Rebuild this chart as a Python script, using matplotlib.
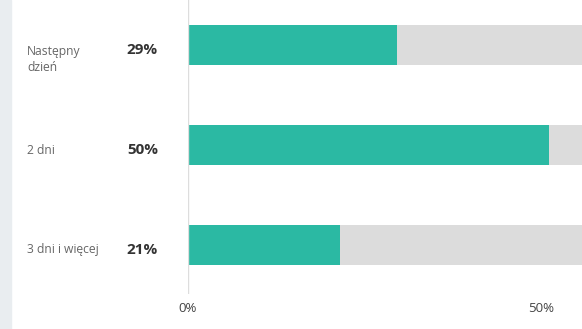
import matplotlib
matplotlib.use("Agg")
import matplotlib.pyplot as plt
import matplotlib.transforms as mtransforms
from matplotlib.patches import Rectangle

plt.rcParams['font.family'] = ['Open Sans', 'DejaVu Sans']

# data
categories = ['Następny\ndzień', '2 dni', '3 dni i więcej']
values = [29, 50, 21]
value_labels = ['29%', '50%', '21%']
tick_values = [0, 50]
tick_labels = ['0%', '50%']

teal = '#2bb9a3'
track = '#dcdcdc'

fig = plt.figure(figsize=(5.82, 3.29), dpi=100)
fig.patches.append(Rectangle((0, 0), 11 / 582, 1, transform=fig.transFigure,
                             color='#e9edf0', zorder=0))

ax = fig.add_axes([188 / 582, 35 / 329, 394 / 582, 294 / 329])
ypos = list(range(len(values)))

# background track, then value bars
ax.barh(ypos, [100] * len(values), height=0.4, color=track, zorder=1)
ax.barh(ypos, values, height=0.4, color=teal, zorder=2)

ax.set_xlim(0, 54.57)
ax.set_ylim(2.49, -0.45)
ax.axvline(0, color='#dddddd', lw=1, zorder=3)

for s in ax.spines.values():
    s.set_visible(False)
ax.set_yticks([])
ax.set_xticks(tick_values)
ax.set_xticklabels(tick_labels, fontsize=9.5, color='#444444')
ax.tick_params(axis='x', length=0, pad=6)
# the last tick label sits a little left of its gridline in the original
off = mtransforms.ScaledTranslation(-0.08, 0, fig.dpi_scale_trans)
lbl = ax.get_xticklabels()[-1]
lbl.set_transform(lbl.get_transform() + off)

trans = mtransforms.blended_transform_factory(fig.transFigure, ax.transData)
down = mtransforms.ScaledTranslation(0, -0.05, fig.dpi_scale_trans)
for y, cat, vl in zip(ypos, categories, value_labels):
    if '\n' in cat:
        ax.text(27 / 582, y, cat, transform=trans, ha='left', va='top',
                fontsize=8.7, color='#666666', linespacing=1.3)
    else:
        ax.text(27 / 582, y, cat, transform=trans + down, ha='left', va='center',
                fontsize=8.7, color='#666666')
    ax.text(158 / 582, y, vl, transform=trans + down, ha='right', va='center',
            fontsize=11, fontweight='bold', color='#333333')

fig.savefig('out.png', dpi=100)
